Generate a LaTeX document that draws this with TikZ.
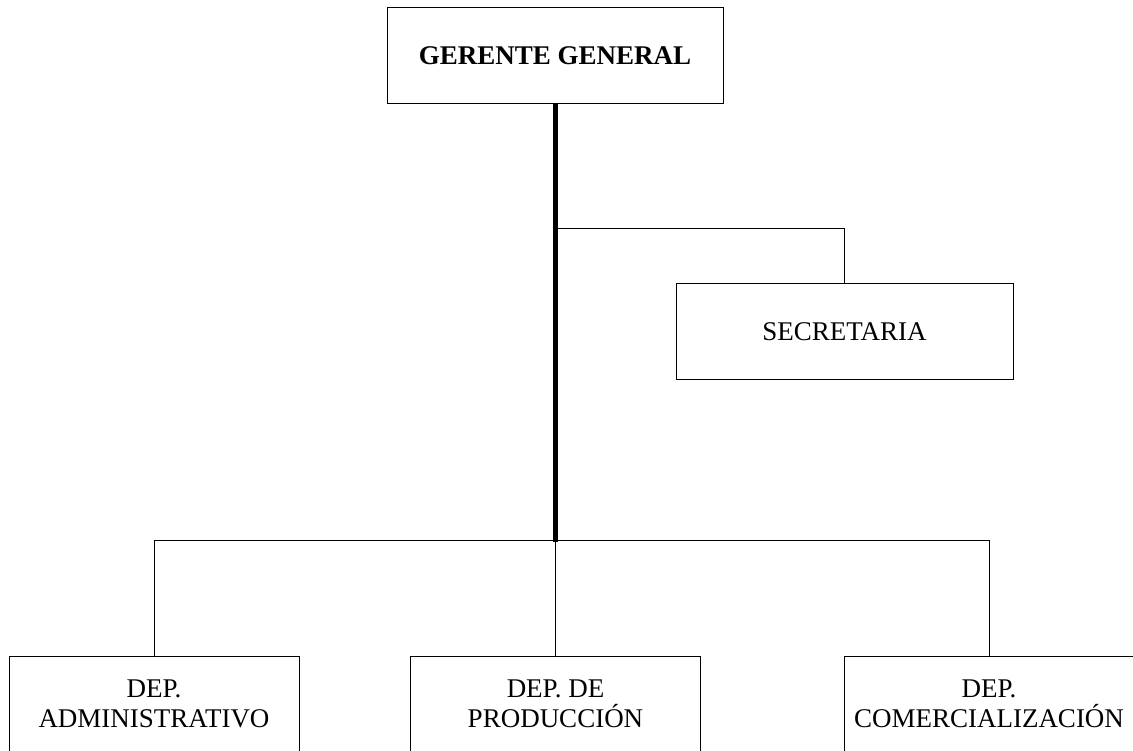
\documentclass[tikz,border=0pt]{standalone}
\usepackage{fontspec}
\setmainfont{Liberation Serif}
\begin{document}
\begin{tikzpicture}[x=1pt,y=-1pt,
  unit/.style={draw=black, line width=1pt, minimum width=#1, minimum height=96pt,
    inner sep=0pt, align=center, font=\fontsize{27}{30}\selectfont},
  unit/.default=290pt,
  link/.style={draw=black, line width=1pt},
  mainline/.style={draw=black, line width=5pt}]
  \useasboundingbox (0,0) rectangle (1133,751);
  % top level
  \node[unit=336pt, font=\fontsize{27}{30}\selectfont\bfseries] (gg) at (555,55.5) {GERENTE GENERAL};
  % staff position
  \node[unit=337pt] (sec) at (844.5,332) {SECRETARIA};
  % departments
  \node[unit] (adm) at (154,704) {DEP.\\ADMINISTRATIVO};
  \node[unit] (prod) at (555.5,704) {DEP. DE\\PRODUCCIÓN};
  \node[unit] (com) at (989,704) {DEP.\\COMERCIALIZACIÓN};
  % junction points on the main line
  \coordinate (tap) at (555,229);
  \coordinate (bus) at (555,540);
  % connectors
  \draw[link] (tap) -| (sec.north);
  \draw[link] (adm.north) -- (adm.north |- bus) -- (com.north |- bus) -- (com.north);
  \draw[link] (prod.north |- bus) -- (prod.north);
  \draw[mainline] (gg.south) -- ([yshift=-2pt]bus);
\end{tikzpicture}
\end{document}
